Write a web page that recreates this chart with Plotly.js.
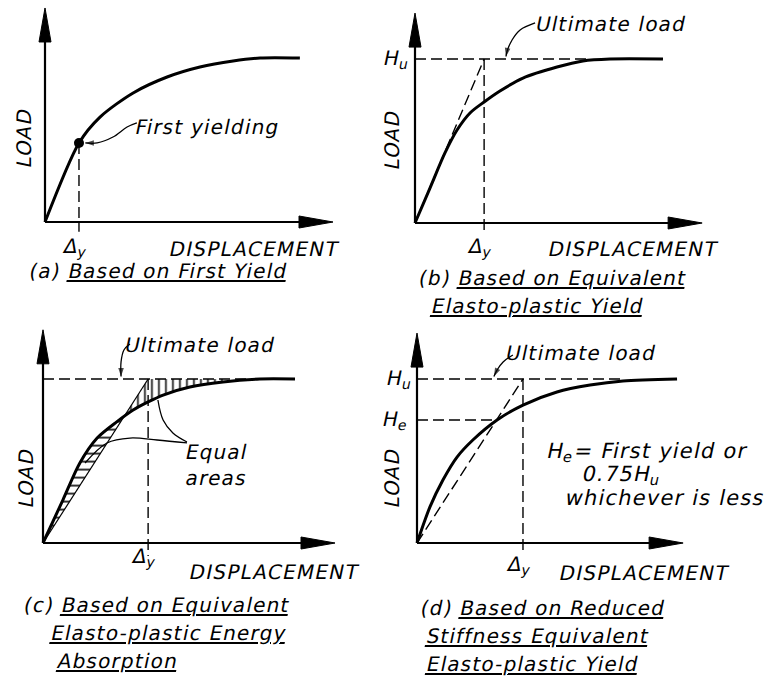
<!DOCTYPE html>
<html><head><meta charset="utf-8">
<script src="https://cdn.plot.ly/plotly-3.0.1.min.js"></script>
<style>
html,body{margin:0;padding:0;background:#fff;}
#chart{width:776px;height:677px;}
#chart text{letter-spacing:1.2px;}
#chart text.annotation-text{transform:skewX(-12deg);transform-box:fill-box;transform-origin:50% 50%;}
</style>
</head><body><div id="chart"></div>
<script>
// ---------------- DATA (load normalised so that ultimate load Hu = 1) ----------------
const Hu = 1.0;
// (a) first yield
const aDisp = [0, 0.118, 0.191, 0.306, 0.424, 0.538, 0.653, 0.747, 0.885];
const aLoad = [0, 0.482, 0.640, 0.787, 0.884, 0.945, 0.982, 1.000, 1.000];
const aYieldDisp = 0.118, aYieldLoad = 0.482;
// (b) equivalent elasto-plastic yield
const bDisp = [0, 0.052, 0.104, 0.146, 0.191, 0.240, 0.295, 0.375, 0.493, 0.583, 0.677, 0.861];
const bLoad = [0, 0.213, 0.427, 0.567, 0.671, 0.738, 0.805, 0.884, 0.951, 0.988, 1.000, 1.000];
const bDeltaY = 0.240;
// (c) equivalent elasto-plastic energy absorption
const cDisp = [0, 0.069, 0.128, 0.188, 0.257, 0.313, 0.365, 0.417, 0.510, 0.625, 0.753, 0.875];
const cLoad = [0, 0.262, 0.488, 0.640, 0.740, 0.811, 0.860, 0.902, 0.951, 0.982, 1.000, 1.000];
const cDeltaY = 0.365;
// (d) reduced stiffness equivalent elasto-plastic yield
const dDisp = [0, 0.045, 0.090, 0.139, 0.194, 0.278, 0.368, 0.486, 0.601, 0.715, 0.903];
const dLoad = [0, 0.220, 0.384, 0.524, 0.628, 0.750, 0.841, 0.921, 0.963, 0.988, 1.000];
const dDeltaY = 0.368, dHe = 0.75;

// text
const xTitle = 'DISPLACEMENT', yTitle = 'LOAD';
const captions = {
  a: ['(a) <u>Based on First Yield</u>'],
  b: ['(b) <u>Based on Equivalent</u>', '<u>Elasto-plastic Yield</u>'],
  c: ['(c) <u>Based on Equivalent</u>', '<u>Elasto-plastic Energy</u>', '<u>Absorption</u>'],
  d: ['(d) <u>Based on Reduced</u>', '<u>Stiffness Equivalent</u>', '<u>Elasto-plastic Yield</u>']
};

// ---------------- LAYOUT GEOMETRY ----------------
const W = 776, H = 677, UX = 288, UY = 164;
const XR = [-0.12, 1.12], YR = [-0.1, 1.35];
const panels = {
  a: {ax: '',  ox: 45,  oy: 222, xTip: 1.000, yTop: 1.305},
  b: {ax: '2', ox: 415, oy: 223, xTip: 0.997, yTop: 1.28},
  c: {ax: '3', ox: 43,  oy: 543, xTip: 1.014, yTop: 1.30},
  d: {ax: '4', ox: 417, oy: 543, xTip: 0.924, yTop: 1.28}
};
const F = {family: 'DejaVu Sans', size: 20, color: '#000'};
const DASH = '11px,5px';

const layout = {
  width: W, height: H, margin: {l: 0, r: 0, t: 0, b: 0},
  paper_bgcolor: '#fff', plot_bgcolor: 'rgba(0,0,0,0)',
  showlegend: false, hovermode: false,
  shapes: [], annotations: []
};
const traces = [];

function xa(p) { return 'x' + p.ax; }
function ya(p) { return 'y' + p.ax; }

for (const k in panels) {
  const p = panels[k];
  layout['xaxis' + p.ax] = {
    domain: [(p.ox + XR[0] * UX) / W, (p.ox + XR[1] * UX) / W],
    range: XR, autorange: false, visible: false, fixedrange: true, anchor: ya(p)
  };
  layout['yaxis' + p.ax] = {
    domain: [1 - (p.oy - YR[0] * UY) / H, 1 - (p.oy - YR[1] * UY) / H],
    range: YR, autorange: false, visible: false, fixedrange: true, anchor: xa(p)
  };
  // axes with arrow heads
  const alx = 34 / UX, hwy = 6 / UY, aly = 34 / UY, hwx = 6 / UX;
  layout.shapes.push({type: 'line', xref: xa(p), yref: ya(p), x0: 0, y0: 0, x1: p.xTip - alx * 0.5, y1: 0, line: {color: '#000', width: 2.2}});
  layout.shapes.push({type: 'line', xref: xa(p), yref: ya(p), x0: 0, y0: 0, x1: 0, y1: p.yTop - aly * 0.5, line: {color: '#000', width: 2.2}});
  layout.shapes.push({type: 'path', xref: xa(p), yref: ya(p),
    path: `M ${p.xTip},0 L ${p.xTip - alx},${hwy} L ${p.xTip - alx},${-hwy} Z`,
    fillcolor: '#000', line: {color: '#000', width: 1}});
  layout.shapes.push({type: 'path', xref: xa(p), yref: ya(p),
    path: `M 0,${p.yTop} L ${hwx},${p.yTop - aly} L ${-hwx},${p.yTop - aly} Z`,
    fillcolor: '#000', line: {color: '#000', width: 1}});
}

function dline(p, x0, y0, x1, y1, dash, width) {
  layout.shapes.push({type: 'line', xref: xa(p), yref: ya(p), x0, y0, x1, y1,
    line: {color: '#000', width: width || 1.4, dash: dash === undefined ? DASH : dash}});
}
function curve(p, x, y, w) {
  traces.push({x, y, xaxis: xa(p), yaxis: ya(p), mode: 'lines',
    line: {color: '#000', width: w || 3, shape: 'spline', smoothing: 0.8}});
}
function leader(p, x, y, arrow) {
  const n = x.length;
  const t = {x, y, xaxis: xa(p), yaxis: ya(p), mode: arrow === false ? 'lines' : 'lines+markers',
    line: {color: '#000', width: 1.3, shape: 'spline', smoothing: 1}};
  if (arrow !== false) {
    t.marker = {symbol: 'arrow', angleref: 'previous', color: '#000',
      size: x.map((v, i) => (i === n - 1 ? 9 : 0)), line: {width: 0}};
  }
  traces.push(t);
}
function txt(text, px, py, xanchor, extra) {
  layout.annotations.push(Object.assign({xref: 'paper', yref: 'paper', x: px / W, y: 1 - py / H,
    text, showarrow: false, xanchor: xanchor || 'left', yanchor: 'middle', font: F}, extra || {}));
}
function deltaLabel(p, xval, py) {
  layout.annotations.push({xref: xa(p), yref: 'paper', x: xval, y: 1 - py / H, text: 'Δ<sub>y</sub>',
    showarrow: false, xanchor: 'center', yanchor: 'middle', xshift: -3, font: F});
}
function hLabel(p, text, yval, pxRight) {
  layout.annotations.push({xref: 'paper', yref: ya(p), x: pxRight / W, y: yval, text,
    showarrow: false, xanchor: 'right', yanchor: 'middle', font: F});
}

// ---------------- PANEL (a) ----------------
{
  const p = panels.a;
  dline(p, aYieldDisp, aYieldLoad, aYieldDisp, -0.06);
  curve(p, aDisp, aLoad);
  traces.push({x: [aYieldDisp], y: [aYieldLoad], xaxis: xa(p), yaxis: ya(p), mode: 'markers',
    marker: {color: '#000', size: 10}});
  leader(p, [0.319, 0.285, 0.236, 0.181, 0.140], [0.604, 0.579, 0.518, 0.482, 0.482]);
  txt('First yielding', 142, 127);
  txt(yTitle, 24, 138, 'center', {textangle: -90});
  deltaLabel(p, aYieldDisp, 247);
  txt(xTitle, 334, 249, 'right');
  captions.a.forEach((c, i) => txt(c, 42, 271 + i * 28));
}
// ---------------- PANEL (b) ----------------
{
  const p = panels.b;
  dline(p, 0, Hu, 0.6, Hu);
  dline(p, bDeltaY, Hu, bDeltaY, -0.06);
  dline(p, 0, 0, bDeltaY, Hu);
  curve(p, bDisp, bLoad);
  leader(p, [0.417, 0.365, 0.337, 0.319, 0.316], [1.220, 1.177, 1.116, 1.043, 1.015]);
  txt('Ultimate load', 542, 24);
  hLabel(p, 'H<sub>u</sub>', Hu, 411);
  txt(yTitle, 392, 140, 'center', {textangle: -90});
  deltaLabel(p, bDeltaY, 247);
  txt(xTitle, 713, 249, 'right');
  txt(captions.b[0], 431, 278);
  txt(captions.b[1], 442, 306);
}
// ---------------- PANEL (c) ----------------
{
  const p = panels.c;
  // crossing of the equivalent elastic line with the curve
  let xc = 0, yc = 0, ic = 1;
  for (let i = 1; i < cDisp.length; i++) {
    const f0 = cLoad[i - 1] - cDisp[i - 1] * Hu / cDeltaY, f1 = cLoad[i] - cDisp[i] * Hu / cDeltaY;
    if (i > 1 && f0 > 0 && f1 <= 0) {
      const t = f0 / (f0 - f1);
      xc = cDisp[i - 1] + t * (cDisp[i] - cDisp[i - 1]);
      yc = cLoad[i - 1] + t * (cLoad[i] - cLoad[i - 1]);
      ic = i; break;
    }
  }
  // lower area (horizontal hatching)
  const lx = [0], ly = [0];
  for (let i = 1; i < ic; i++) { lx.push(cDisp[i]); ly.push(cLoad[i]); }
  lx.push(xc, 0); ly.push(yc, 0);
  traces.push({x: lx, y: ly, xaxis: xa(p), yaxis: ya(p), mode: 'lines', fill: 'toself',
    fillcolor: 'rgba(0,0,0,0)', line: {width: 0},
    fillpattern: {shape: '-', size: 8, solidity: 0.2, fgcolor: '#000', bgcolor: 'rgba(0,0,0,0)'}});
  // upper area (vertical hatching)
  const iEnd = cDisp.indexOf(0.625);
  const ux = [xc, cDeltaY, cDisp[iEnd]], uy = [yc, Hu, Hu];
  for (let i = iEnd; i >= ic; i--) { ux.push(cDisp[i]); uy.push(cLoad[i]); }
  ux.push(xc); uy.push(yc);
  traces.push({x: ux, y: uy, xaxis: xa(p), yaxis: ya(p), mode: 'lines', fill: 'toself',
    fillcolor: 'rgba(0,0,0,0)', line: {width: 0},
    fillpattern: {shape: '|', size: 7, solidity: 0.22, fgcolor: '#000', bgcolor: 'rgba(0,0,0,0)'}});
  dline(p, 0, Hu, 0.75, Hu);
  dline(p, cDeltaY, Hu, cDeltaY, -0.08);
  dline(p, 0, 0, cDeltaY, Hu, 'solid', 1.2);
  curve(p, cDisp, cLoad);
  leader(p, [0.302, 0.281, 0.271, 0.271], [1.213, 1.177, 1.104, 1.015]);
  leader(p, [0.146, 0.222, 0.302, 0.396, 0.5], [0.488, 0.610, 0.640, 0.628, 0.610], false);
  leader(p, [0.399, 0.417, 0.451, 0.5], [0.872, 0.75, 0.671, 0.616], false);
  txt('Ultimate load', 131, 345);
  txt('Equal', 187, 452);
  txt('areas', 187, 478);
  txt(yTitle, 26, 478, 'center', {textangle: -90});
  deltaLabel(p, cDeltaY, 557);
  txt(xTitle, 354, 572, 'right');
  txt(captions.c[0], 36, 605);
  txt(captions.c[1], 62, 633);
  txt(captions.c[2], 62, 661);
}
// ---------------- PANEL (d) ----------------
{
  const p = panels.d;
  dline(p, 0, Hu, 0.72, Hu);
  dline(p, 0, dHe, dHe * dDeltaY / Hu, dHe);
  dline(p, dDeltaY, Hu, dDeltaY, -0.06);
  dline(p, 0, 0, dDeltaY, Hu);
  curve(p, dDisp, dLoad);
  leader(p, [0.333, 0.299, 0.278, 0.267], [1.146, 1.104, 1.055, 1.015]);
  txt('Ultimate load', 512, 353);
  hLabel(p, 'H<sub>u</sub>', Hu, 414);
  hLabel(p, 'H<sub>e</sub>', dHe, 410);
  const Fd = Object.assign({}, F, {size: 21});
  txt('H<sub>e</sub>= First yield or', 556, 452, 'left', {font: Fd});
  txt('0.75H<sub>u</sub>', 584, 475, 'left', {font: Fd});
  txt('whichever is less', 574, 498, 'left', {font: Fd});
  txt(yTitle, 392, 478, 'center', {textangle: -90});
  deltaLabel(p, dDeltaY, 565);
  txt(xTitle, 724, 573, 'right');
  txt(captions.d[0], 431, 608);
  txt(captions.d[1], 437, 636);
  txt(captions.d[2], 437, 664);
}

Plotly.newPlot('chart', traces, layout, {staticPlot: true, displayModeBar: false});
</script>
</body></html>
